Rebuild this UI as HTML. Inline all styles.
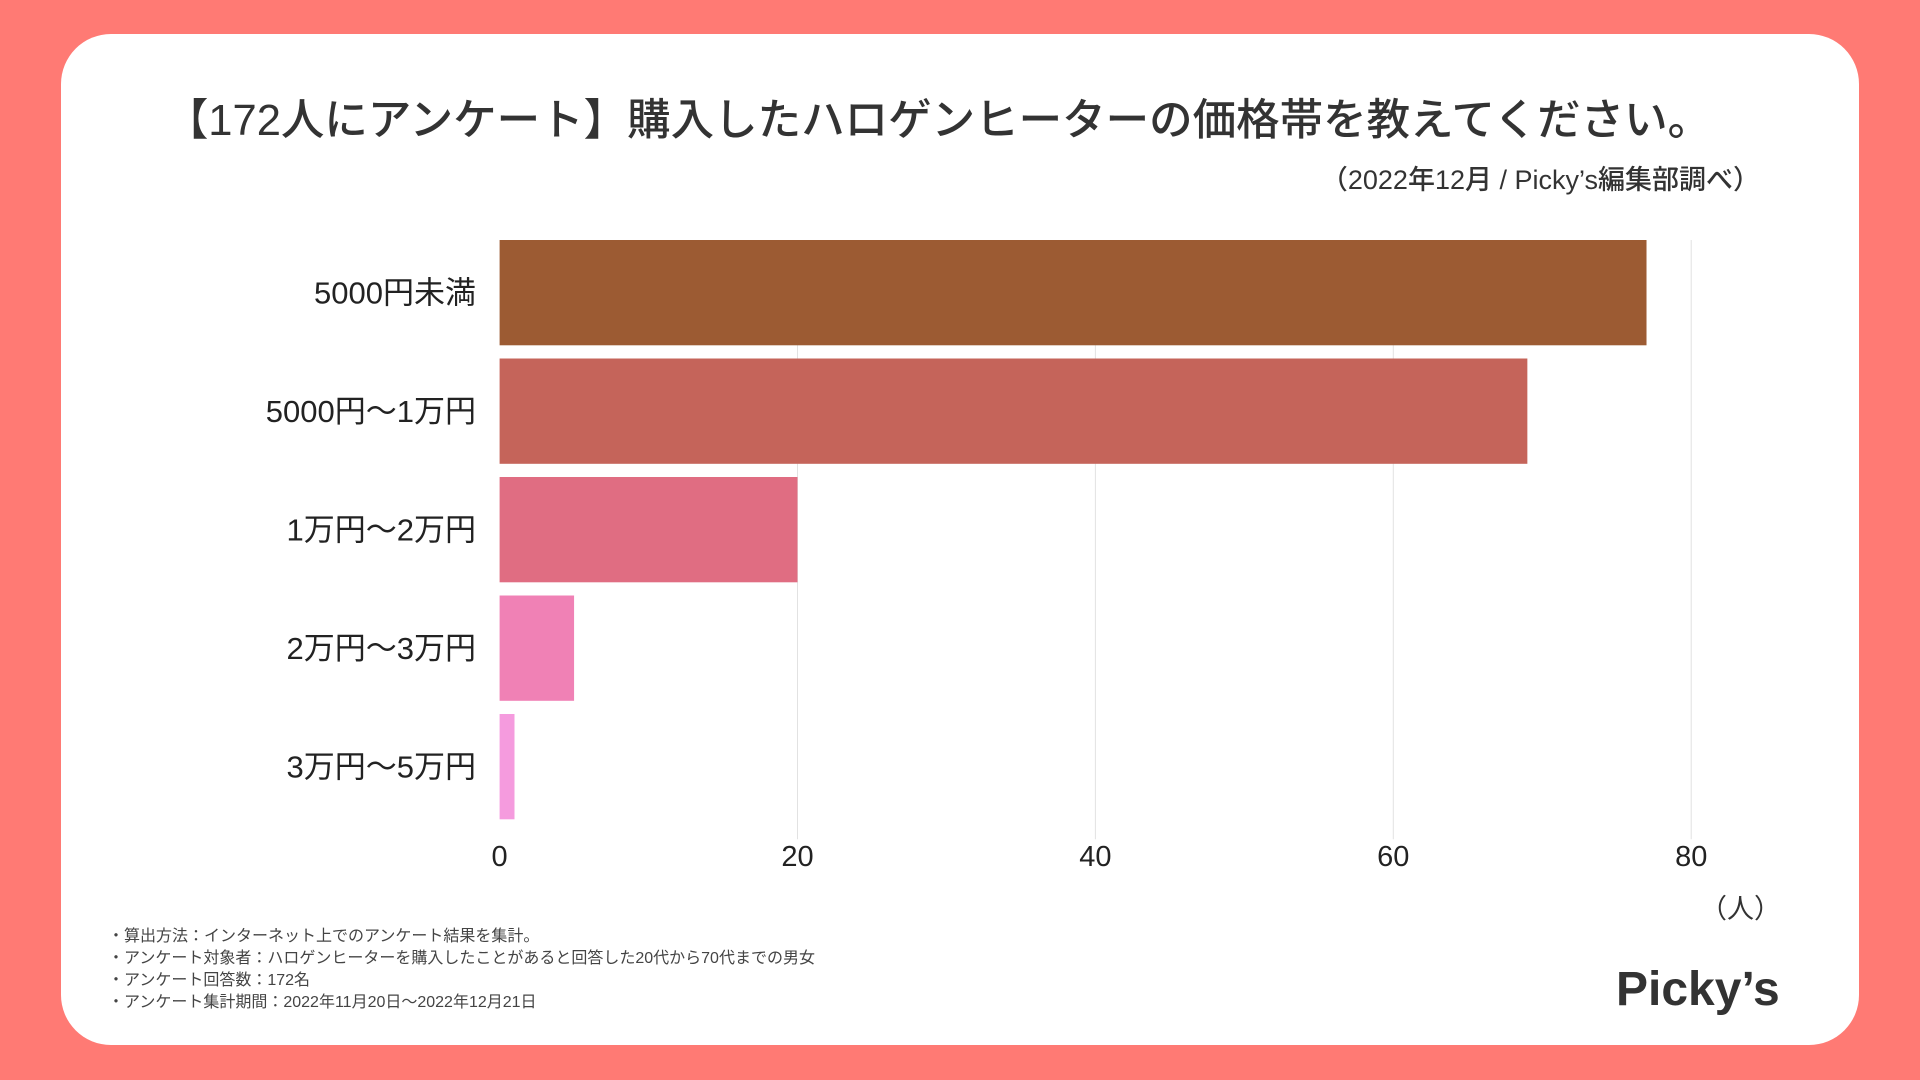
<!DOCTYPE html>
<html><head><meta charset="utf-8"><style>
body{margin:0;width:1920px;height:1080px;background:#FF7A74;overflow:hidden;font-family:"Liberation Sans","Noto Sans CJK JP",sans-serif;}
#card{position:absolute;left:61px;top:34px;width:1798px;height:1011px;background:#fff;border-radius:50px;}
.t{position:absolute;white-space:nowrap;color:#222;}
</style></head><body>
<div id="card"></div>
<div class="t" style="left:0;width:1876px;text-align:center;top:85px;font-size:43.5px;color:#333;font-weight:500;">【172人にアンケート】購入したハロゲンヒーターの価格帯を教えてください。</div>
<div class="t" style="right:160px;top:158px;font-size:27px;color:#333;font-weight:500;">（2022年12月 / Picky’s編集部調べ）</div>
<svg id="chart" width="1920" height="1080" style="position:absolute;left:0;top:0"></svg>
<div class="t" style="left:1700px;top:887px;font-size:27px;color:#333;">（人）</div>
<div class="t" style="left:108px;top:926px;font-size:16px;line-height:22px;color:#444;">
・算出方法：インターネット上でのアンケート結果を集計。<br>・アンケート対象者：ハロゲンヒーターを購入したことがあると回答した20代から70代までの男女<br>・アンケート回答数：172名<br>・アンケート集計期間：2022年11月20日〜2022年12月21日</div>
<div class="t" style="left:1616px;top:962px;font-size:48px;font-weight:bold;color:#333;">Picky’s</div>
<script>
const categories=["5000円未満","5000円〜1万円","1万円〜2万円","2万円〜3万円","3万円〜5万円"];
const values=[77,69,20,5,1];
const colors=["#9C5B33","#C5645A","#E06D82","#F081B5","#F59BDE"];
const ticks=[0,20,40,60,80];
const NS="http://www.w3.org/2000/svg";
const svg=document.getElementById('chart');
const x0=499.6,pxPer=297.9/20,top0=240,pitch=118.5,bh=105.3;
const xs=v=>x0+v*pxPer;
const ys=i=>top0+i*pitch;
function mk(t,a){const e=document.createElementNS(NS,t);for(const k in a)e.setAttribute(k,a[k]);svg.appendChild(e);return e;}
ticks.forEach(t=>{
  if(t>0){const g=mk('line',{x1:xs(t),x2:xs(t),y1:top0,y2:ys(categories.length-1)+bh+20,stroke:'#e2e2e2','stroke-width':1});
  
  }
  const l=mk('text',{x:xs(t),y:866,'text-anchor':'middle','font-size':29,fill:'#222'});
  l.textContent=t;
  
  
});
categories.forEach((c,i)=>{
  const r=mk('rect',{x:x0,y:ys(i),width:xs(values[i])-x0,height:bh,fill:colors[i]});
  
  
  const l=mk('text',{x:476,y:ys(i)+bh/2+11,'text-anchor':'end','font-size':31,fill:'#222'});
  l.textContent=c;
  
  
});
</script>
</body></html>
